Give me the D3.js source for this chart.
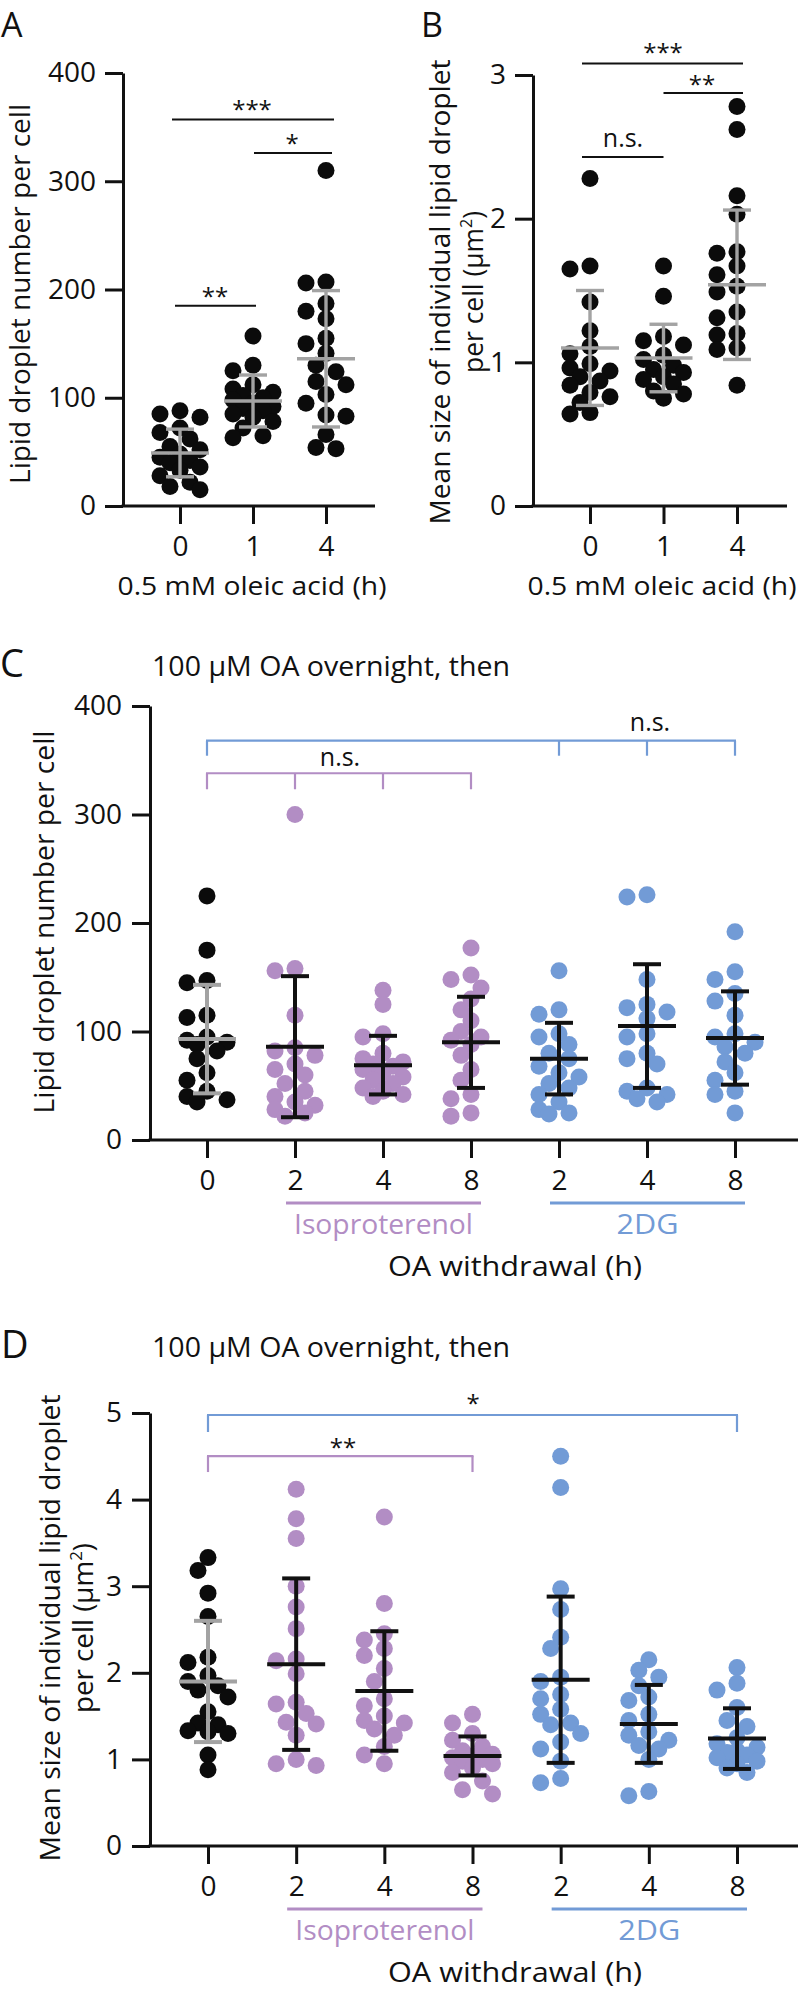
<!DOCTYPE html>
<html><head><meta charset="utf-8">
<script src="https://cdn.jsdelivr.net/npm/d3@7"></script>
<style>
body{margin:0;background:#fff;}
svg text{font-family:"Open Sans",sans-serif;fill:#111;}
</style></head>
<body><svg id="chart" width="800" height="1989"></svg>
<script>
// ================= DATA =================
const abCategories = ["0", "1", "4"];
const aTicks = [0, 100, 200, 300, 400];
const aPoints0 = [88, 85, 82, 72, 68, 62, 55, 52, 48, 45, 42, 40, 36, 33, 28, 22, 18, 15];
const aPoints1 = [157, 130, 125, 112, 108, 105, 102, 100, 98, 95, 92, 90, 88, 85, 82, 78, 72, 65, 63];
const aPoints4 = [310, 207, 206, 187, 180, 173, 155, 150, 141, 130, 124, 115, 112, 103, 95, 84, 83, 66, 54, 53];
const aMeans = [49, 97, 136];
const aSDs = [22, 24, 63];

const bTicks = [0, 1, 2, 3];
const bPoints0 = [2.28, 1.67, 1.65, 1.42, 1.22, 1.11, 1.06, 0.99, 0.96, 0.94, 0.90, 0.87, 0.84, 0.79, 0.76, 0.72, 0.65, 0.64];
const bPoints1 = [1.67, 1.46, 1.18, 1.15, 1.12, 1.05, 1.02, 0.98, 0.95, 0.93, 0.90, 0.88, 0.85, 0.80, 0.78, 0.75];
const bPoints4 = [2.78, 2.62, 2.16, 2.03, 1.77, 1.76, 1.67, 1.61, 1.53, 1.49, 1.35, 1.31, 1.20, 1.19, 1.10, 1.09, 0.84];
const bMeans = [1.10, 1.03, 1.54];
const bSDs = [0.40, 0.235, 0.52];

const cdKeys = ["ctl", "iso2", "iso4", "iso8", "dg2", "dg4", "dg8"];
const cdTickLabels = ["0", "2", "4", "8", "2", "4", "8"];
const cdGroupNames = ["Isoproterenol", "2DG"];

const cTicks = [0, 100, 200, 300, 400];
const cPointsCtl  = [225, 175, 147, 145, 115, 113, 95, 92, 90, 88, 82, 75, 62, 55, 45, 40, 37, 35];
const cPointsIso2 = [300, 158, 156, 115, 85, 82, 78, 70, 65, 60, 52, 45, 40, 35, 32, 28, 25, 22];
const cPointsIso4 = [138, 125, 98, 95, 80, 75, 72, 70, 68, 65, 62, 58, 55, 52, 48, 45, 42, 40];
const cPointsIso8 = [177, 152, 148, 140, 130, 120, 110, 100, 95, 92, 88, 78, 65, 55, 42, 38, 25, 22];
const cPointsDg2  = [156, 120, 116, 98, 95, 88, 80, 75, 68, 62, 58, 52, 48, 42, 35, 28, 25, 24];
const cPointsDg4  = [226, 224, 148, 125, 122, 118, 112, 98, 95, 80, 75, 70, 48, 45, 42, 38, 35];
const cPointsDg8  = [192, 155, 148, 135, 128, 115, 98, 95, 90, 86, 80, 72, 62, 55, 45, 42, 25];
const cMeans = [93, 86, 69, 90, 75, 105, 94];
const cSDs = [50, 65, 27, 42, 33, 57, 43];

const dTicks = [0, 1, 2, 3, 4, 5];
const dPointsCtl  = [3.33, 3.18, 2.92, 2.65, 2.18, 2.12, 1.97, 1.90, 1.85, 1.80, 1.72, 1.55, 1.42, 1.40, 1.33, 1.32, 1.30, 1.05, 0.88];
const dPointsIso2 = [4.12, 3.78, 3.55, 3.00, 2.76, 2.51, 2.16, 2.14, 1.99, 1.66, 1.64, 1.53, 1.43, 1.41, 1.28, 1.00, 0.95, 0.93];
const dPointsIso4 = [3.80, 2.80, 2.45, 2.38, 2.28, 2.20, 2.05, 1.90, 1.70, 1.62, 1.50, 1.45, 1.42, 1.35, 1.28, 1.15, 1.05, 0.95];
const dPointsIso8 = [1.52, 1.42, 1.30, 1.22, 1.15, 1.10, 1.06, 1.04, 1.02, 1.00, 0.98, 0.95, 0.90, 0.85, 0.75, 0.65, 0.60];
const dPointsDg2  = [4.50, 4.14, 2.97, 2.73, 2.41, 2.28, 1.95, 1.90, 1.75, 1.70, 1.58, 1.52, 1.42, 1.40, 1.30, 1.20, 1.12, 0.98, 0.78, 0.73];
const dPointsDg4  = [2.15, 2.03, 1.95, 1.85, 1.72, 1.68, 1.52, 1.45, 1.32, 1.28, 1.22, 1.16, 1.12, 1.00, 0.63, 0.58];
const dPointsDg8  = [2.06, 1.88, 1.80, 1.60, 1.45, 1.38, 1.25, 1.18, 1.14, 1.10, 1.08, 1.05, 1.02, 0.98, 0.95, 0.90, 0.85];
const dMeans = [1.90, 2.10, 1.79, 1.04, 1.92, 1.41, 1.24];
const dSDs = [0.70, 0.99, 0.69, 0.225, 0.96, 0.45, 0.35];

// ================= STYLE =================
const BLACK = "#0b0b0b", PURPLE = "#b28dc4", BLUE = "#729bd6", GRAY = "#a3a3a3", BAR = "#111";
const cdColors = [BLACK, PURPLE, PURPLE, PURPLE, BLUE, BLUE, BLUE];
const cdBarColors = [GRAY, BAR, BAR, BAR, BAR, BAR, BAR];

const svg = d3.select("#chart");

function fit(sel, w) { return sel.attr("textLength", w).attr("lengthAdjust", "spacingAndGlyphs"); }

function swarm(vals, y, half, minD) {
  const placed = [], out = [];
  const order = vals.map((v, i) => i).sort((a, b) => vals[b] - vals[a]);
  const cands = [0, -1, 1, -2, 2].map(k => k * half);
  order.forEach(i => {
    const py = y(vals[i]);
    let best = 0, bestD = -1;
    for (const c of cands) {
      let d = Infinity;
      for (const p of placed) d = Math.min(d, Math.hypot(p[0] - c, p[1] - py));
      if (d >= minD) { best = c; break; }
      if (d > bestD) { bestD = d; best = c; }
    }
    placed.push([best, py]); out[i] = best;
  });
  return out;
}

function panel(o) {
  const g = svg.append("g");
  const y = d3.scaleLinear().domain([0, o.max]).range([o.y0, o.yTop]);
  const x = d3.scalePoint().domain(o.keys).range(o.xRange);

  // y axis
  const ya = g.append("g").attr("transform", `translate(${o.axisX},0)`)
    .call(d3.axisLeft(y).tickValues(o.ticks).tickFormat(d3.format("d"))
      .tickSize(18).tickPadding(o.yPad).tickSizeOuter(0));
  ya.selectAll("path,line").attr("stroke", "#111").attr("stroke-width", 3);
  ya.selectAll("text").attr("font-size", 28).attr("font-family", "Open Sans").attr("fill", "#111");

  // x axis
  const xa = g.append("g").attr("transform", `translate(0,${o.y0})`)
    .call(d3.axisBottom(x).tickSize(18).tickPadding(12).tickFormat((d, i) => o.tickLabels[i]));
  xa.select(".domain").remove();
  xa.selectAll("line").attr("stroke", "#111").attr("stroke-width", 3);
  xa.selectAll("text").attr("font-size", 28).attr("font-family", "Open Sans")
    .attr("fill", (d, i) => o.tickColors[i]);
  g.append("line").attr("x1", o.axisX - 1.5).attr("x2", o.xEnd).attr("y1", o.y0).attr("y2", o.y0)
    .attr("stroke", "#111").attr("stroke-width", 3);

  // dots
  o.points.forEach((vals, gi) => {
    const offs = swarm(vals, y, 10, 14);
    g.append("g").selectAll("circle").data(vals).join("circle")
      .attr("cx", (d, i) => x(o.keys[gi]) + offs[i]).attr("cy", d => y(d))
      .attr("r", 8.5).attr("fill", o.dotColors[gi]);
  });

  // error bars (mean ± SD)
  o.means.forEach((m, gi) => {
    const cx = x(o.keys[gi]), col = o.barColors[gi], sw = o.barWidth;
    const bg = g.append("g").attr("stroke", col).attr("stroke-width", sw);
    bg.append("line").attr("x1", cx).attr("x2", cx).attr("y1", y(m - o.sds[gi])).attr("y2", y(m + o.sds[gi]));
    [m - o.sds[gi], m + o.sds[gi]].forEach(v =>
      bg.append("line").attr("x1", cx - 14).attr("x2", cx + 14).attr("y1", y(v)).attr("y2", y(v)));
    bg.append("line").attr("x1", cx - 29).attr("x2", cx + 29).attr("y1", y(m)).attr("y2", y(m));
  });
  return { g, x, y };
}

function star(g, txt, cx, cy) {
  g.append("text").attr("x", cx).attr("y", cy + 14).attr("text-anchor", "middle")
    .attr("font-size", 24).attr("fill", "#222").text(txt);
}
function ns(g, cx, base) {
  g.append("text").attr("x", cx).attr("y", base).attr("text-anchor", "middle")
    .attr("font-size", 25).attr("fill", "#222").text("n.s.");
}
function hline(g, x1, x2, yy, col, w) {
  g.append("line").attr("x1", x1).attr("x2", x2).attr("y1", yy).attr("y2", yy)
    .attr("stroke", col).attr("stroke-width", w);
}
function bracket(g, xs, yy, drop, col) {
  hline(g, d3.min(xs) - 1, d3.max(xs) + 1, yy, col, 2.2);
  xs.forEach(xx => g.append("line").attr("x1", xx).attr("x2", xx).attr("y1", yy).attr("y2", yy + drop)
    .attr("stroke", col).attr("stroke-width", 2.2));
}
function yLabel(lines, x0, cy, spacing, widths) {
  lines.forEach((ln, i) => {
    const t = svg.append("text").attr("transform", `translate(${x0 + i * spacing},${cy}) rotate(-90)`)
      .attr("text-anchor", "middle").attr("font-size", 28);
    if (ln.sup) {
      t.append("tspan").text(ln.text);
      t.append("tspan").attr("font-size", 17).attr("dy", -11).text(ln.sup);
      t.append("tspan").attr("dy", 11).text(ln.after);
    } else t.text(ln.text);
    fit(t, widths[i]);
  });
}

// ================= PANEL A =================
const A = panel({
  keys: abCategories, tickLabels: abCategories, tickColors: ["#111", "#111", "#111"],
  ticks: aTicks, max: 400, y0: 506, yTop: 73, axisX: 123, xRange: [180, 326], xEnd: 375, yPad: 9,
  points: [aPoints0, aPoints1, aPoints4], means: aMeans, sds: aSDs,
  dotColors: [BLACK, BLACK, BLACK], barColors: [GRAY, GRAY, GRAY], barWidth: 3.4
});
hline(A.g, A.x("0") - 8, A.x("4") + 8, A.y(357), "#111", 2);
star(A.g, "***", 252, A.y(357) - 16);
hline(A.g, A.x("1") + 1, A.x("4") + 6, A.y(326), "#111", 2);
star(A.g, "*", 292, A.y(326) - 15);
hline(A.g, A.x("0") - 5, A.x("1") + 3, A.y(185), "#111", 2);
star(A.g, "**", 215, A.y(185) - 15);
yLabel([{ text: "Lipid droplet number per cell" }], 30, 294, 0, [380]);
fit(svg.append("text").attr("x", 252).attr("y", 595).attr("text-anchor", "middle").attr("font-size", 26)
  .text("0.5 mM oleic acid (h)"), 269);
svg.append("text").attr("x", 1).attr("y", 37).attr("font-size", 34).text("A");

// ================= PANEL B =================
const B = panel({
  keys: abCategories, tickLabels: abCategories, tickColors: ["#111", "#111", "#111"],
  ticks: bTicks, max: 3, y0: 506, yTop: 75, axisX: 533, xRange: [590, 737], xEnd: 787, yPad: 9,
  points: [bPoints0, bPoints1, bPoints4], means: bMeans, sds: bSDs,
  dotColors: [BLACK, BLACK, BLACK], barColors: [GRAY, GRAY, GRAY], barWidth: 3.4
});
hline(B.g, B.x("0") - 8, B.x("4") + 6, B.y(3.08), "#111", 2);
star(B.g, "***", 663, B.y(3.08) - 17);
hline(B.g, B.x("1"), B.x("4") + 6, B.y(2.875), "#111", 2);
star(B.g, "**", 702, B.y(2.875) - 14);
hline(B.g, B.x("0") - 8, B.x("1"), B.y(2.43), "#111", 2);
ns(B.g, 623, B.y(2.43) - 10);
yLabel([{ text: "Mean size of individual lipid droplet" }, { text: "per cell (μm", sup: "2", after: ")" }],
  450, 292, 33, [465, 162]);
fit(svg.append("text").attr("x", 662).attr("y", 595).attr("text-anchor", "middle").attr("font-size", 26)
  .text("0.5 mM oleic acid (h)"), 269);
svg.append("text").attr("x", 421).attr("y", 37).attr("font-size", 34).text("B");

// ================= PANEL C / D helpers =================
function groupAxisLabels(p, y0) {
  const groups = [[1, 3, PURPLE], [4, 6, BLUE]];
  groups.forEach(([a, b, col], i) => {
    const x1 = p.x(cdKeys[a]) - 9, x2 = p.x(cdKeys[b]) + 10;
    hline(p.g, x1, x2, y0 + 63, col, 3);
    const t = p.g.append("text").attr("x", (x1 + x2) / 2).attr("y", y0 + 94).attr("text-anchor", "middle")
      .attr("font-size", 27).style("fill", col).text(cdGroupNames[i]);
    fit(t, i === 0 ? 179 : 62);
  });
  fit(p.g.append("text").attr("x", 388).attr("y", y0 + 136).attr("font-size", 27).text("OA withdrawal (h)"), 254);
}

// ================= PANEL C =================
const C = panel({
  keys: cdKeys, tickLabels: cdTickLabels, tickColors: cdColors.map(c => c === BLACK ? "#111" : c),
  ticks: cTicks, max: 400, y0: 1140, yTop: 706, axisX: 150, xRange: [207, 735], xEnd: 798, yPad: 10,
  points: [cPointsCtl, cPointsIso2, cPointsIso4, cPointsIso8, cPointsDg2, cPointsDg4, cPointsDg8],
  means: cMeans, sds: cSDs, dotColors: cdColors, barColors: cdBarColors, barWidth: 4
});
bracket(C.g, ["ctl", "dg2", "dg4", "dg8"].map(k => C.x(k)), C.y(368), 15, BLUE);
bracket(C.g, ["ctl", "iso2", "iso4", "iso8"].map(k => C.x(k)), C.y(338), 16, PURPLE);
ns(C.g, 340, C.y(338) - 7);
ns(C.g, 650, C.y(368) - 10);
groupAxisLabels(C, 1140);
yLabel([{ text: "Lipid droplet number per cell" }], 54, 922, 0, [383]);
fit(svg.append("text").attr("x", 152).attr("y", 676).attr("font-size", 27).text("100 μM OA overnight, then"), 358);
svg.append("text").attr("x", 0).attr("y", 677).attr("font-size", 38).text("C");

// ================= PANEL D =================
const D = panel({
  keys: cdKeys, tickLabels: cdTickLabels, tickColors: cdColors.map(c => c === BLACK ? "#111" : c),
  ticks: dTicks, max: 5, y0: 1846, yTop: 1413, axisX: 150, xRange: [208, 737], xEnd: 798, yPad: 10,
  points: [dPointsCtl, dPointsIso2, dPointsIso4, dPointsIso8, dPointsDg2, dPointsDg4, dPointsDg8],
  means: dMeans, sds: dSDs, dotColors: cdColors, barColors: cdBarColors, barWidth: 4
});
bracket(D.g, ["ctl", "dg8"].map(k => D.x(k)), D.y(4.977), 17, BLUE);
bracket(D.g, ["ctl", "iso8"].map(k => D.x(k)), D.y(4.503), 16, PURPLE);
star(D.g, "*", 473, D.y(4.977) - 17);
star(D.g, "**", 343, D.y(4.503) - 14);
groupAxisLabels(D, 1846);
yLabel([{ text: "Mean size of individual lipid droplet" }, { text: "per cell (μm", sup: "2", after: ")" }],
  60, 1628, 33, [467, 170]);
fit(svg.append("text").attr("x", 152).attr("y", 1357).attr("font-size", 27).text("100 μM OA overnight, then"), 358);
svg.append("text").attr("x", 1).attr("y", 1358).attr("font-size", 38).text("D");
</script>
</body></html>
